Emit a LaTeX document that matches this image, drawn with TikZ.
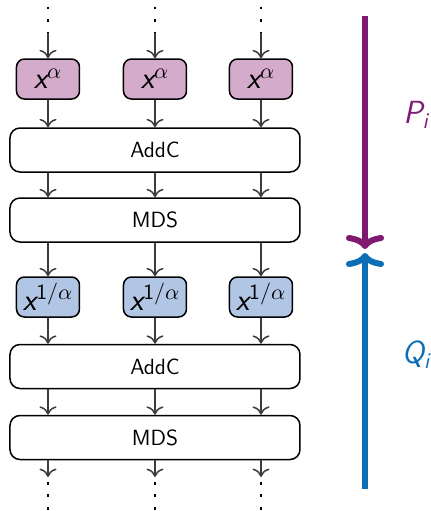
\documentclass[tikz,border=0pt]{standalone}
\usepackage{amsmath}
\usetikzlibrary{arrows.meta}
\definecolor{roundP}{RGB}{128,26,112}
\definecolor{roundQ}{RGB}{12,111,182}
\definecolor{powfill}{RGB}{213,171,204}
\definecolor{rootfill}{RGB}{177,197,228}
\definecolor{flowgray}{RGB}{60,60,60}
% sans italic letters for the formulas
\newcommand{\sfvar}[1]{\mathord{\textsf{\itshape #1}}}
\newcommand{\sfnum}[1]{\mathord{\textsf{#1}}}
\tikzset{
  layer/.style   = {shape=rectangle, rounded corners=5pt, draw, line width=0.75pt,
                    minimum width=145pt, minimum height=22pt,
                    font=\fontsize{11}{13}\selectfont\sffamily},
  sbox/.style    = {shape=rectangle, rounded corners=4pt, draw, line width=0.75pt,
                    minimum width=31.5pt, minimum height=20pt, inner sep=0pt,
                    font=\fontsize{15.5}{18}\selectfont},
  powbox/.style  = {sbox, fill=powfill},
  rootbox/.style = {sbox, fill=rootfill},
  flow/.style    = {draw=flowgray, line width=0.75pt,
                    -{Computer Modern Rightarrow[length=4.2pt,width=8.5pt]}},
  dots/.style    = {draw=black, line width=1.4pt,
                    dash pattern=on 1.4pt off 4.85pt},
  round/.style   = {line width=3pt,
                    -{Computer Modern Rightarrow[length=7pt,width=19pt]}},
  roundlabel/.style = {font=\fontsize{16}{19}\selectfont}
}
\begin{document}
\begin{tikzpicture}[x=0.5pt, y=-0.5pt]
  \useasboundingbox (0,0) rectangle (431,511);

  % the two linear layers of each half round
  \node [layer] (addA) at (155,150)   {AddC};
  \node [layer] (mdsA) at (155,220)   {MDS};
  \node [layer] (addB) at (155,366.5) {AddC};
  \node [layer] (mdsB) at (155,437.5) {MDS};

  % one s-box per branch
  \foreach \c/\x in {1/48, 2/155, 3/261} {
    \node [powbox]  (pow\c)  at (\x,79)  {$\sfvar{x}^{\alpha}$};
    \node [rootbox] (root\c) at (\x,297) {$\sfvar{x}^{\sfnum{1}/\alpha}$};
    \coordinate (top\c) at (\x,6.6);
    \coordinate (in\c)  at (\x,33);
    \coordinate (out\c) at (\x,477);
    \coordinate (bot\c) at (\x,510);
  }

  \foreach \c in {1,2,3} {
    \draw [dots] (top\c) -- (in\c);
    \draw [flow] (in\c) -- (pow\c);
    \draw [flow] (pow\c) -- (pow\c |- addA.north);
    \draw [flow] (pow\c |- addA.south) -- (pow\c |- mdsA.north);
    \draw [flow] (pow\c |- mdsA.south) -- (root\c);
    \draw [flow] (root\c) -- (root\c |- addB.north);
    \draw [flow] (root\c |- addB.south) -- (root\c |- mdsB.north);
    \draw [flow] (root\c |- mdsB.south) -- (out\c);
    \draw [dots] ([yshift=-2.4pt]out\c) -- (bot\c);
  }

  % forward and backward halves
  \coordinate (ptop) at (365,16);
  \coordinate (pend) at (365,249);
  \coordinate (qtop) at (365,489);
  \coordinate (qend) at (365,253);
  \draw [round, roundP] (ptop) -- (pend);
  \draw [round, roundQ] (qtop) -- (qend);
  \node [roundlabel, text=roundP] (plabel) at (416,115) {$\sfvar{P}_{\sfvar{i}}$};
  \node [roundlabel, text=roundQ] (qlabel) at (416,355) {$\sfvar{Q}_{\sfvar{i}}$};
\end{tikzpicture}
\end{document}
